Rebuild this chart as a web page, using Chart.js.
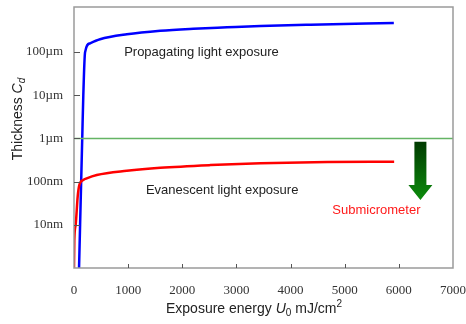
<!DOCTYPE html>
<html>
<head>
<meta charset="utf-8">
<script src="https://cdn.jsdelivr.net/npm/chart.js@4.4.1/dist/chart.umd.min.js"></script>
<style>
  html, body { margin: 0; padding: 0; background: #fff; }
  #wrap { width: 466px; height: 324px; }
</style>
</head>
<body>
<div id="wrap"><canvas id="grafico"></canvas></div>
<script>
// Dados (energia em mJ/cm2, espessura em nm)
const energiaPropag = [93, 152, 172, 204, 296, 481, 976, 1593, 2204, 2828, 3444, 4370, 5907];
const espessPropag  = [1, 1000, 10000, 98000, 159000, 197000, 257000, 311000, 346000, 373000, 400000, 429000, 470000];

const energiaEvan = [0, 6, 31, 68, 98, 172, 235, 420, 976, 1593, 2519, 3444, 4680, 5913];
const espessEvan  = [1, 4.4, 10, 45, 83, 109, 119, 142, 178, 209, 241, 265, 284, 289];

const energiaLimite = [0, 7000];
const espessLimite  = [1000, 1000];

const ticksY = [10, 100, 1000, 10000, 100000];
const rotulosY = { 10: '10nm', 100: '100nm', 1000: '1\u00b5m', 10000: '10\u00b5m', 100000: '100\u00b5m' };

const pontos = (xs, ys) => xs.map((x, i) => ({ x: x, y: ys[i] }));

const fonteTick = { family: "'Liberation Serif', 'Times New Roman', serif", size: 13 };
const SANS = "'Liberation Sans', Arial, sans-serif";

// desenha texto em partes (normal / itálico / sub / sobrescrito)
function desenhaPartes(ctx, partes, x, y) {
    let total = 0;
    partes.forEach(p => { ctx.font = p.font; total += ctx.measureText(p.t).width; });
    let cx = x - total / 2;
    partes.forEach(p => {
        ctx.font = p.font;
        ctx.fillText(p.t, cx, y + (p.dy || 0));
        cx += ctx.measureText(p.t).width;
    });
}

const pluginExtras = {
    id: 'extras',
    afterDraw(chart) {
        const ctx = chart.ctx;
        const a = chart.chartArea;
        const sx = chart.scales.x, sy = chart.scales.y;
        ctx.save();

        // moldura
        ctx.strokeStyle = '#9a9a9a';
        ctx.lineWidth = 1.5;
        ctx.strokeRect(a.left, a.top, a.right - a.left, a.bottom - a.top);

        // ticks internos
        ctx.strokeStyle = '#555';
        ctx.lineWidth = 1;
        sx.ticks.forEach(t => {
            const px = Math.round(sx.getPixelForValue(t.value)) + 0.5;
            if (px <= a.left + 1 || px >= a.right - 1) return;
            ctx.beginPath(); ctx.moveTo(px, a.bottom); ctx.lineTo(px, a.bottom - 4); ctx.stroke();
        });
        ticksY.forEach(v => {
            const py = Math.round(sy.getPixelForValue(v)) + 0.5;
            ctx.beginPath(); ctx.moveTo(a.left, py); ctx.lineTo(a.left + 6, py); ctx.stroke();
        });

        // anotações
        ctx.textBaseline = 'middle';
        ctx.textAlign = 'left';
        ctx.font = '13px ' + SANS;
        ctx.fillStyle = '#222';
        ctx.fillText('Propagating light exposure', sx.getPixelForValue(926), sy.getPixelForValue(100000));
        ctx.fillText('Evanescent light exposure', sx.getPixelForValue(1328), sy.getPixelForValue(64));
        ctx.fillStyle = '#ff1a1a';
        ctx.fillText('Submicrometer', sx.getPixelForValue(4772), sy.getPixelForValue(21));

        // seta verde
        const cx = sx.getPixelForValue(6398);
        const topo = sy.getPixelForValue(840);
        const ponta = sy.getPixelForValue(37.5);
        const base = ponta - 15;
        const grad = ctx.createLinearGradient(0, topo, 0, ponta);
        grad.addColorStop(0, '#003a00');
        grad.addColorStop(1, '#0c8c0c');
        ctx.fillStyle = grad;
        ctx.beginPath();
        ctx.moveTo(cx - 6, topo);
        ctx.lineTo(cx + 6, topo);
        ctx.lineTo(cx + 6, base);
        ctx.lineTo(cx + 12, base);
        ctx.lineTo(cx, ponta);
        ctx.lineTo(cx - 12, base);
        ctx.lineTo(cx - 6, base);
        ctx.closePath();
        ctx.fill();

        // títulos dos eixos
        ctx.fillStyle = '#222';
        ctx.textBaseline = 'alphabetic';
        desenhaPartes(ctx, [
            { t: 'Exposure energy ', font: '14px ' + SANS },
            { t: 'U', font: 'italic 14px ' + SANS },
            { t: '0', font: '10px ' + SANS, dy: 3 },
            { t: ' mJ/cm', font: '14px ' + SANS },
            { t: '2', font: '10px ' + SANS, dy: -6 }
        ], 254, 313);

        ctx.translate(22, 119);
        ctx.rotate(-Math.PI / 2);
        desenhaPartes(ctx, [
            { t: 'Thickness ', font: '14px ' + SANS },
            { t: 'C', font: 'italic 14px ' + SANS },
            { t: 'd', font: 'italic 10px ' + SANS, dy: 3 }
        ], 0, 0);

        ctx.restore();
    }
};

new Chart(document.getElementById('grafico'), {
    type: 'line',
    data: {
        datasets: [
            { data: pontos(energiaLimite, espessLimite), borderColor: '#64b464', borderWidth: 1.5, pointRadius: 0 },
            { data: pontos(energiaEvan, espessEvan), borderColor: '#ff0000', borderWidth: 2.5, pointRadius: 0, cubicInterpolationMode: 'monotone' },
            { data: pontos(energiaPropag, espessPropag), borderColor: '#0000ff', borderWidth: 2.5, pointRadius: 0, cubicInterpolationMode: 'monotone' }
        ]
    },
    options: {
        responsive: true,
        maintainAspectRatio: false,
        animation: false,
        layout: { padding: { top: 7, right: 13, left: 0, bottom: 0 } },
        plugins: { legend: { display: false }, tooltip: { enabled: false } },
        scales: {
            x: {
                type: 'linear', min: 0, max: 7000,
                grid: { display: false, drawTicks: false },
                border: { display: false },
                ticks: { stepSize: 1000, font: fonteTick, color: '#333', padding: 15, maxRotation: 0, callback: v => String(v) },
                afterFit: s => { s.height = 56; s.paddingLeft = 0; s.paddingRight = 0; }
            },
            y: {
                type: 'logarithmic', min: 1, max: 1.1e6,
                grid: { display: false, drawTicks: false },
                border: { display: false },
                afterBuildTicks: s => { s.ticks = ticksY.map(v => ({ value: v })); },
                ticks: { font: fonteTick, color: '#333', padding: 11, callback: v => rotulosY[v] || '' },
                afterFit: s => { s.width = 74; s.paddingTop = 0; s.paddingBottom = 0; }
            }
        }
    },
    plugins: [pluginExtras]
});
</script>
</body>
</html>
